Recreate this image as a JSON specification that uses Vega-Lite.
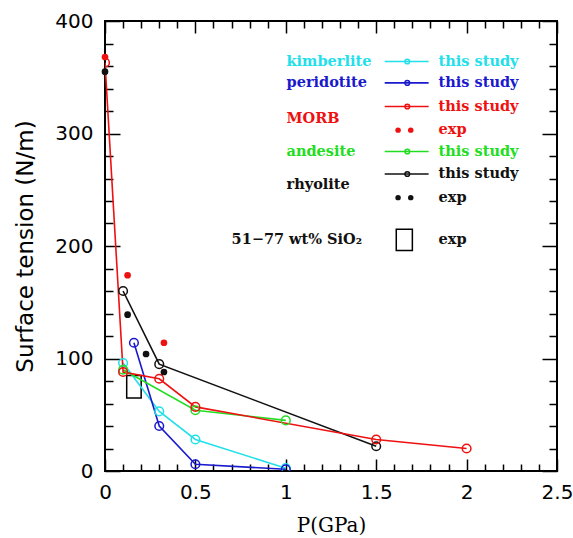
{
  "$schema": "https://vega.github.io/schema/vega-lite/v6.json",
  "width": 452,
  "height": 450,
  "autosize": {"type": "none"},
  "padding": {"left": 105, "top": 21, "right": 16, "bottom": 67},
  "background": "white",
  "config": {
    "view": {"stroke": "black", "strokeWidth": 2},
    "axis": {"grid": false, "domain": false, "ticks": true, "tickColor": "black", "tickWidth": 1.5, "labelColor": "black", "titleColor": "black", "labelFlush": false}
  },
  "datasets": {
    "study": [
      {"rock": "kimberlite", "P": 0.1, "st": 96},
      {"rock": "kimberlite", "P": 0.3, "st": 53},
      {"rock": "kimberlite", "P": 0.5, "st": 28},
      {"rock": "kimberlite", "P": 1.0, "st": 2.5},
      {"rock": "peridotite", "P": 0.16, "st": 114},
      {"rock": "peridotite", "P": 0.3, "st": 40},
      {"rock": "peridotite", "P": 0.5, "st": 6},
      {"rock": "peridotite", "P": 1.0, "st": 1.5},
      {"rock": "andesite", "P": 0.1, "st": 90},
      {"rock": "andesite", "P": 0.5, "st": 54},
      {"rock": "andesite", "P": 1.0, "st": 45},
      {"rock": "rhyolite", "P": 0.1, "st": 160},
      {"rock": "rhyolite", "P": 0.3, "st": 95},
      {"rock": "rhyolite", "P": 1.5, "st": 22},
      {"rock": "MORB", "P": 0.0, "st": 363},
      {"rock": "MORB", "P": 0.1, "st": 88},
      {"rock": "MORB", "P": 0.3, "st": 82},
      {"rock": "MORB", "P": 0.5, "st": 57},
      {"rock": "MORB", "P": 1.5, "st": 28},
      {"rock": "MORB", "P": 2.0, "st": 20}
    ],
    "exp": [
      {"rock": "MORB", "P": 0.0, "st": 368},
      {"rock": "MORB", "P": 0.125, "st": 174},
      {"rock": "MORB", "P": 0.326, "st": 114},
      {"rock": "rhyolite", "P": 0.0, "st": 355},
      {"rock": "rhyolite", "P": 0.125, "st": 139},
      {"rock": "rhyolite", "P": 0.227, "st": 104},
      {"rock": "rhyolite", "P": 0.326, "st": 88}
    ],
    "box": [
      {"rock": "SiO2", "P1": 0.12, "P2": 0.2, "s1": 65, "s2": 85},
      {"rock": "SiO2", "P1": 1.611, "P2": 1.7, "s1": 196, "s2": 215}
    ],
    "legtext": [
      {"rock": "kimberlite", "lx": 1.004, "ly": 364, "text": "kimberlite"},
      {"rock": "kimberlite", "lx": 1.845, "ly": 364, "text": "this study"},
      {"rock": "peridotite", "lx": 1.004, "ly": 345, "text": "peridotite"},
      {"rock": "peridotite", "lx": 1.845, "ly": 345, "text": "this study"},
      {"rock": "MORB", "lx": 1.845, "ly": 324, "text": "this study"},
      {"rock": "MORB", "lx": 1.004, "ly": 313, "text": "MORB"},
      {"rock": "MORB", "lx": 1.845, "ly": 303, "text": "exp"},
      {"rock": "andesite", "lx": 1.004, "ly": 284, "text": "andesite"},
      {"rock": "andesite", "lx": 1.845, "ly": 284, "text": "this study"},
      {"rock": "rhyolite", "lx": 1.845, "ly": 264, "text": "this study"},
      {"rock": "rhyolite", "lx": 1.004, "ly": 254, "text": "rhyolite"},
      {"rock": "rhyolite", "lx": 1.845, "ly": 243, "text": "exp"},
      {"rock": "SiO2", "lx": 0.7, "ly": 205, "text": "51−77 wt% SiO₂"},
      {"rock": "SiO2", "lx": 1.845, "ly": 205, "text": "exp"}
    ],
    "legline": [
      {"rock": "kimberlite", "a": 1.547, "b": 1.79, "m": 1.672, "ly": 364},
      {"rock": "peridotite", "a": 1.547, "b": 1.79, "m": 1.672, "ly": 345},
      {"rock": "MORB", "a": 1.547, "b": 1.79, "m": 1.672, "ly": 324},
      {"rock": "andesite", "a": 1.547, "b": 1.79, "m": 1.672, "ly": 284},
      {"rock": "rhyolite", "a": 1.547, "b": 1.79, "m": 1.672, "ly": 264}
    ],
    "legdots": [
      {"rock": "MORB", "lx": 1.621, "ly": 303},
      {"rock": "MORB", "lx": 1.691, "ly": 303},
      {"rock": "rhyolite", "lx": 1.621, "ly": 243},
      {"rock": "rhyolite", "lx": 1.691, "ly": 243}
    ]
  },
  "layer": [
    {
      "data": {"name": "box"},
      "mark": {"type": "rect", "fill": null, "fillOpacity": 0, "stroke": "black", "strokeWidth": 1.5},
      "encoding": {
        "x": {"field": "P1", "type": "quantitative", "scale": {"domain": [0, 2.5], "nice": false, "zero": false}, "axis": null},
        "x2": {"field": "P2"},
        "y": {"field": "s1", "type": "quantitative", "scale": {"domain": [0, 400], "nice": false, "zero": false}, "axis": null},
        "y2": {"field": "s2"}
      }
    },
    {
      "data": {"name": "study"},
      "mark": {"type": "line", "strokeWidth": 1.6, "clip": true, "point": {"filled": false, "size": 75, "strokeWidth": 1.5}},
      "encoding": {
        "x": {"field": "P", "type": "quantitative", "scale": {"domain": [0, 2.5], "nice": false, "zero": false}, "axis": null},
        "y": {"field": "st", "type": "quantitative", "scale": {"domain": [0, 400], "nice": false, "zero": false}, "axis": null},
        "color": {"field": "rock", "type": "nominal", "legend": null,
          "scale": {"domain": ["kimberlite", "peridotite", "andesite", "rhyolite", "MORB", "SiO2"], "range": ["#22e0ea", "#1a1acc", "#22dd22", "#111111", "#ee1111", "#111111"]}},
        "order": {"field": "P", "type": "quantitative"},
        "detail": {"field": "rock"}
      }
    },
    {
      "data": {"name": "exp"},
      "mark": {"type": "point", "filled": true, "shape": "circle", "size": 45, "opacity": 1},
      "encoding": {
        "x": {"field": "P", "type": "quantitative", "axis": null},
        "y": {"field": "st", "type": "quantitative", "axis": null},
        "color": {"field": "rock", "type": "nominal", "legend": null}
      }
    },
    {
      "data": {"name": "legline"},
      "mark": {"type": "rule", "strokeWidth": 1.6},
      "encoding": {
        "x": {"field": "a", "type": "quantitative", "axis": null},
        "x2": {"field": "b"},
        "y": {"field": "ly", "type": "quantitative", "axis": null},
        "color": {"field": "rock", "type": "nominal", "legend": null}
      }
    },
    {
      "data": {"name": "legline"},
      "mark": {"type": "point", "filled": false, "shape": "circle", "size": 22, "strokeWidth": 1.5, "opacity": 1},
      "encoding": {
        "x": {"field": "m", "type": "quantitative", "axis": null},
        "y": {"field": "ly", "type": "quantitative", "axis": null},
        "color": {"field": "rock", "type": "nominal", "legend": null}
      }
    },
    {
      "data": {"name": "legdots"},
      "mark": {"type": "point", "filled": true, "shape": "circle", "size": 30, "opacity": 1},
      "encoding": {
        "x": {"field": "lx", "type": "quantitative", "axis": null},
        "y": {"field": "ly", "type": "quantitative", "axis": null},
        "color": {"field": "rock", "type": "nominal", "legend": null}
      }
    },
    {
      "data": {"name": "legtext"},
      "mark": {"type": "text", "align": "left", "baseline": "middle", "font": "DejaVu Serif", "fontWeight": "bold", "fontSize": 14.5},
      "encoding": {
        "x": {"field": "lx", "type": "quantitative", "axis": null},
        "y": {"field": "ly", "type": "quantitative", "axis": null},
        "text": {"field": "text"},
        "color": {"field": "rock", "type": "nominal", "legend": null}
      }
    },
    {
      "data": {"name": "study"},
      "mark": {"type": "point", "opacity": 0},
      "encoding": {
        "x": {"field": "P", "type": "quantitative",
          "axis": {"orient": "bottom", "values": [0, 0.5, 1, 1.5, 2, 2.5], "format": "~g", "offset": -12, "tickSize": 12, "labelPadding": 11, "labelFont": "DejaVu Sans", "labelFontSize": 20, "title": "P(GPa)", "titleFont": "DejaVu Serif", "titleFontSize": 20, "titleFontWeight": "normal", "titlePadding": 13}},
        "y": {"field": "st", "type": "quantitative",
          "axis": {"orient": "left", "values": [0, 100, 200, 300, 400], "offset": -15, "tickSize": 15, "labelPadding": 12, "labelFont": "DejaVu Sans", "labelFontSize": 20, "title": "Surface tension (N/m)", "titleFont": "DejaVu Sans", "titleFontSize": 23, "titleFontWeight": "normal", "titlePadding": 17}}
      }
    },
    {
      "data": {"name": "study"},
      "mark": {"type": "point", "opacity": 0},
      "encoding": {
        "x": {"field": "P", "type": "quantitative",
          "axis": {"orient": "bottom", "values": [0.1, 0.2, 0.3, 0.4, 0.6, 0.7, 0.8, 0.9, 1.1, 1.2, 1.3, 1.4, 1.6, 1.7, 1.8, 1.9, 2.1, 2.2, 2.3, 2.4], "offset": -7, "tickSize": 7, "labels": false, "title": null}},
        "y": {"field": "st", "type": "quantitative",
          "axis": {"orient": "left", "values": [20, 40, 60, 80, 120, 140, 160, 180, 220, 240, 260, 280, 320, 340, 360, 380], "offset": -8, "tickSize": 8, "labels": false, "title": null}}
      }
    },
    {
      "data": {"name": "study"},
      "mark": {"type": "point", "opacity": 0},
      "encoding": {
        "x": {"field": "P", "type": "quantitative",
          "axis": {"orient": "top", "values": [0, 0.5, 1, 1.5, 2, 2.5], "offset": -12, "tickSize": 12, "labels": false, "title": null}},
        "y": {"field": "st", "type": "quantitative",
          "axis": {"orient": "right", "values": [0, 100, 200, 300, 400], "offset": -15, "tickSize": 15, "labels": false, "title": null}}
      }
    },
    {
      "data": {"name": "study"},
      "mark": {"type": "point", "opacity": 0},
      "encoding": {
        "x": {"field": "P", "type": "quantitative",
          "axis": {"orient": "top", "values": [0.1, 0.2, 0.3, 0.4, 0.6, 0.7, 0.8, 0.9, 1.1, 1.2, 1.3, 1.4, 1.6, 1.7, 1.8, 1.9, 2.1, 2.2, 2.3, 2.4], "offset": -7, "tickSize": 7, "labels": false, "title": null}},
        "y": {"field": "st", "type": "quantitative",
          "axis": {"orient": "right", "values": [20, 40, 60, 80, 120, 140, 160, 180, 220, 240, 260, 280, 320, 340, 360, 380], "offset": -8, "tickSize": 8, "labels": false, "title": null}}
      }
    }
  ],
  "resolve": {"axis": {"x": "independent", "y": "independent"}}
}
